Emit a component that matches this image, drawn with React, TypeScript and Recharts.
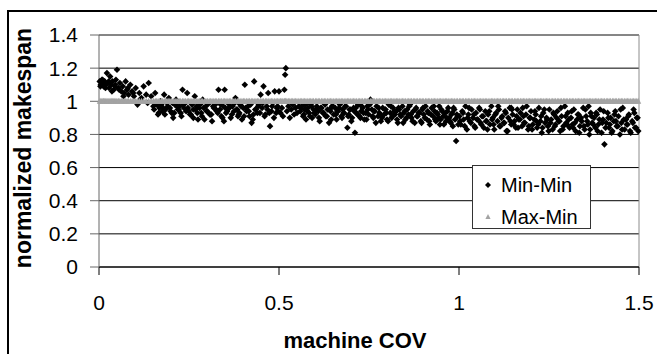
import React from "react";
import { ScatterChart, Scatter, XAxis, YAxis, CartesianGrid, ReferenceLine, Legend, Label } from "recharts";

// machine COV (x) and Min-Min normalized makespan (y) in x ranges
const covA = [
  0.002, 0.005, 0.008, 0.011, 0.013, 0.016, 0.019, 0.022, 0.025, 0.028,
  0.031, 0.034, 0.037, 0.041, 0.044, 0.047, 0.05, 0.054, 0.058, 0.062,
  0.066, 0.07, 0.074, 0.078, 0.082, 0.087, 0.092, 0.097, 0.102, 0.107,
  0.112, 0.118, 0.124, 0.131, 0.138, 0.145,
];
const minMinA = [
  1.12, 1.1, 1.13, 1.11, 1.09, 1.12, 1.1, 1.17, 1.11, 1.08,
  1.15, 1.1, 1.12, 1.07, 1.09, 1.13, 1.19, 1.08, 1.11, 1.06,
  1.09, 1.05, 1.12, 1.07, 1.04, 1.1, 1.06, 1.03, 1.08, 0.98,
  1.05, 1.02, 1.09, 1.04, 1.11, 1.03,
];
const maxMinA = [
  1, 1, 1, 1, 1, 1, 1, 1, 1, 1,
  1, 1, 1, 1, 1, 1, 1, 1, 1, 1,
  1, 1, 1, 1, 1, 1, 1, 1, 1, 1,
  1, 1, 1, 1, 1, 1,
];
const covA2 = [0.004, 0.01, 0.018, 0.027, 0.036, 0.045, 0.056, 0.068, 0.08, 0.095, 0.115, 0.135];
const minMinA2 = [1.09, 1.13, 1.08, 1.12, 1.06, 1.1, 1.07, 1.03, 1.08, 1.05, 1.01, 0.99];

const covB = [
  0.151, 0.156, 0.159, 0.164, 0.168, 0.173, 0.176, 0.181, 0.185, 0.189,
  0.194, 0.197, 0.202, 0.206, 0.211, 0.214, 0.219, 0.223, 0.227, 0.232,
  0.236, 0.24, 0.245, 0.249, 0.253, 0.258, 0.262, 0.266, 0.271, 0.275,
  0.279, 0.284, 0.288, 0.293, 0.297, 0.301, 0.306, 0.31, 0.314, 0.319,
  0.323, 0.327, 0.332, 0.336, 0.34, 0.345, 0.349, 0.353, 0.358, 0.362,
  0.366, 0.371, 0.375, 0.379, 0.384, 0.388, 0.392, 0.397, 0.401, 0.405,
  0.41, 0.414, 0.418, 0.423, 0.427, 0.431, 0.436, 0.44, 0.444, 0.449,
  0.453, 0.457, 0.462, 0.466, 0.47, 0.475, 0.479, 0.483, 0.488, 0.492,
  0.496,
];
const minMinB = [
  0.97, 1.05, 0.99, 0.92, 0.96, 0.98, 0.94, 1.04, 0.95, 0.99,
  1.02, 0.96, 0.93, 0.9, 0.98, 1.01, 0.95, 0.97, 0.93, 1.07,
  0.96, 0.99, 1.05, 0.94, 0.92, 0.98, 0.95, 1.03, 0.97, 0.89,
  0.96, 0.93, 1.01, 0.89, 0.97, 0.94, 0.99, 0.92, 0.88, 0.96,
  0.98, 0.94, 1.07, 0.95, 0.91, 0.97, 1.07, 0.93, 0.99, 0.96,
  0.9, 0.97, 0.94, 1.02, 0.95, 0.92, 0.98, 0.89, 0.96, 1.1,
  0.94, 0.97, 0.91, 0.99, 0.89, 1.12, 0.95, 0.93, 0.98, 1.04,
  0.96, 1.09, 0.92, 0.97, 1.05, 0.85, 0.94, 0.99, 1.06, 0.93,
  0.97,
];
const maxMinB = [
  1, 1, 1, 1, 1, 1, 1, 1, 1, 1,
  1, 1, 1, 1, 1, 1, 1, 1, 1, 1,
  1, 1, 1, 1, 1, 1, 1, 1, 1, 1,
  1, 1, 1, 1, 1, 1, 1, 1, 1, 1,
  1, 1, 1, 1, 1, 1, 1, 1, 1, 1,
  1, 1, 1, 1, 1, 1, 1, 1, 1, 1,
  1, 1, 1, 1, 1, 1, 1, 1, 1, 1,
  1, 1, 1, 1, 1, 1, 1, 1, 1, 1,
  1,
];
const covB2 = [
  0.153, 0.161, 0.166, 0.171, 0.178, 0.183, 0.191, 0.199, 0.204, 0.209,
  0.216, 0.221, 0.229, 0.234, 0.242, 0.247, 0.255, 0.26, 0.268, 0.273,
  0.281, 0.286, 0.291, 0.299, 0.304, 0.312, 0.317, 0.325, 0.33, 0.338,
  0.343, 0.351, 0.356, 0.364, 0.369, 0.377, 0.382, 0.39, 0.395, 0.403,
  0.408, 0.416, 0.421, 0.429, 0.434, 0.442, 0.447, 0.455, 0.46, 0.468,
  0.473, 0.481, 0.486, 0.494, 0.498, 0.424, 0.386, 0.347, 0.308, 0.262,
];
const minMinB2 = [
  0.95, 0.98, 0.93, 1.0, 0.96, 0.92, 0.97, 0.94, 0.99, 0.93,
  0.97, 0.95, 0.91, 0.98, 0.94, 0.96, 0.92, 0.99, 0.95, 0.93,
  0.98, 0.91, 0.96, 0.94, 0.99, 0.92, 0.97, 0.95, 0.93, 0.98,
  0.9, 0.96, 0.94, 0.97, 0.92, 0.99, 0.95, 0.93, 0.97, 0.91,
  0.96, 0.94, 0.98, 0.92, 0.95, 0.97, 0.93, 0.99, 0.91, 0.95,
  0.93, 0.97, 0.9, 0.96, 0.94, 0.87, 0.91, 0.88, 0.92, 0.9,
];

const covC = [
  0.5, 0.504, 0.508, 0.511, 0.515, 0.517, 0.519, 0.522, 0.526, 0.53,
  0.534, 0.538, 0.542, 0.546, 0.55, 0.555,
];
const minMinC = [
  1.06, 0.93, 0.96, 0.91, 1.07, 1.16, 1.2, 0.94, 0.97, 0.9,
  0.95, 0.98, 0.92, 0.96, 0.93, 0.97,
];
const maxMinC = [
  1, 1, 1, 1, 1, 1, 1, 1, 1, 1,
  1, 1, 1, 1, 1, 1,
];

const covD = [
  0.559, 0.563, 0.567, 0.571, 0.575, 0.58, 0.584, 0.588, 0.592, 0.596,
  0.601, 0.605, 0.609, 0.613, 0.618, 0.622, 0.626, 0.63, 0.635, 0.639,
  0.643, 0.647, 0.652, 0.656, 0.66, 0.664, 0.669, 0.673, 0.677, 0.681,
  0.686, 0.69, 0.694, 0.698, 0.703, 0.707, 0.711, 0.715, 0.72, 0.724,
  0.728, 0.732, 0.737, 0.741, 0.745, 0.749, 0.754, 0.758, 0.762, 0.766,
  0.771, 0.775, 0.779, 0.783, 0.788, 0.792, 0.796, 0.8, 0.805, 0.809,
  0.813, 0.817, 0.822, 0.826, 0.83, 0.834, 0.839, 0.843, 0.847, 0.851,
  0.856, 0.86, 0.864, 0.868, 0.873, 0.877, 0.881, 0.885, 0.89, 0.894,
  0.898, 0.902, 0.907, 0.911, 0.915, 0.919, 0.924, 0.928, 0.932, 0.936,
  0.941, 0.945, 0.949, 0.953, 0.958, 0.962, 0.966, 0.97, 0.975, 0.979,
  0.983, 0.987, 0.992, 0.996,
];
const minMinD = [
  0.94, 0.97, 0.91, 0.95, 0.89, 0.96, 0.93, 0.98, 0.9, 0.95,
  0.92, 0.97, 0.94, 0.88, 0.96, 0.93, 0.99, 0.91, 0.95, 0.87,
  0.94, 0.97, 0.92, 0.96, 0.89, 0.94, 0.98, 0.91, 0.95, 0.93,
  0.97, 0.84, 0.92, 0.95, 0.9, 0.96, 0.81, 0.93, 0.98, 0.91,
  0.94, 0.96, 0.89, 0.93, 0.97, 0.92, 1.01, 0.95, 0.9, 0.94,
  0.97, 0.91, 0.93, 0.88, 0.96, 0.92, 0.95, 0.89, 0.98, 0.93,
  0.9, 0.96, 0.92, 0.94, 0.87, 0.95, 0.91, 0.97, 0.93, 0.89,
  0.95, 0.92, 0.98, 0.9, 0.94, 0.87, 0.96, 0.91, 0.93, 0.88,
  0.95, 0.92, 0.97, 0.89, 0.93, 0.86, 0.96, 0.91, 0.94, 0.88,
  0.92, 0.97, 0.89, 0.94, 0.86, 0.93, 0.9, 0.96, 0.88, 0.92,
  0.85, 0.95, 0.76, 0.91,
];
const maxMinD = [
  1, 1, 1, 1, 1, 1, 1, 1, 1, 1,
  1, 1, 1, 1, 1, 1, 1, 1, 1, 1,
  1, 1, 1, 1, 1, 1, 1, 1, 1, 1,
  1, 1, 1, 1, 1, 1, 1, 1, 1, 1,
  1, 1, 1, 1, 1, 1, 1, 1, 1, 1,
  1, 1, 1, 1, 1, 1, 1, 1, 1, 1,
  1, 1, 1, 1, 1, 1, 1, 1, 1, 1,
  1, 1, 1, 1, 1, 1, 1, 1, 1, 1,
  1, 1, 1, 1, 1, 1, 1, 1, 1, 1,
  1, 1, 1, 1, 1, 1, 1, 1, 1, 1,
  1, 1, 1, 1,
];
const covD2 = [
  0.561, 0.569, 0.573, 0.578, 0.586, 0.59, 0.598, 0.603, 0.611, 0.616,
  0.624, 0.628, 0.633, 0.641, 0.645, 0.65, 0.658, 0.662, 0.667, 0.675,
  0.679, 0.684, 0.692, 0.696, 0.701, 0.709, 0.713, 0.718, 0.726, 0.73,
  0.735, 0.743, 0.747, 0.752, 0.76, 0.764, 0.769, 0.777, 0.781, 0.786,
  0.794, 0.798, 0.803, 0.811, 0.815, 0.82, 0.828, 0.832, 0.837, 0.845,
  0.849, 0.854, 0.862, 0.866, 0.871, 0.879, 0.883, 0.888, 0.896, 0.9,
  0.905, 0.913, 0.917, 0.922, 0.93, 0.934, 0.939, 0.947, 0.951, 0.956,
  0.964, 0.968, 0.973, 0.977, 0.981, 0.985, 0.989, 0.994, 0.998, 0.943,
];
const minMinD2 = [
  0.96, 0.92, 0.98, 0.94, 0.91, 0.97, 0.93, 0.95, 0.9, 0.96,
  0.93, 0.98, 0.91, 0.95, 0.89, 0.97, 0.92, 0.94, 0.96, 0.9,
  0.93, 0.97, 0.91, 0.95, 0.88, 0.94, 0.96, 0.92, 0.9, 0.97,
  0.93, 0.89, 0.95, 0.98, 0.91, 0.94, 0.87, 0.96, 0.92, 0.9,
  0.95, 0.93, 0.88, 0.97, 0.91, 0.94, 0.89, 0.96, 0.92, 0.87,
  0.94, 0.9, 0.97, 0.92, 0.88, 0.95, 0.91, 0.93, 0.87, 0.96,
  0.9, 0.94, 0.88, 0.92, 0.97, 0.89, 0.93, 0.86, 0.95, 0.91,
  0.88, 0.94, 0.9, 0.87, 0.93, 0.96, 0.89, 0.92, 0.86, 0.9,
];

const covE = [
  1.001, 1.005, 1.009, 1.013, 1.018, 1.022, 1.026, 1.03, 1.035, 1.039,
  1.043, 1.047, 1.052, 1.056, 1.06, 1.064, 1.069, 1.073, 1.077, 1.081,
  1.086, 1.09, 1.094, 1.098, 1.103, 1.107, 1.111, 1.115, 1.12, 1.124,
  1.128, 1.132, 1.137, 1.141, 1.145, 1.149, 1.154, 1.158, 1.162, 1.166,
  1.171, 1.175, 1.179, 1.183, 1.188, 1.192, 1.196, 1.2, 1.205, 1.209,
  1.213, 1.217, 1.222, 1.226, 1.23, 1.234, 1.239, 1.243, 1.247, 1.251,
  1.256, 1.26, 1.264, 1.268, 1.273, 1.277, 1.281, 1.285, 1.29, 1.294,
  1.298, 1.302, 1.307, 1.311, 1.315, 1.319, 1.324, 1.328, 1.332, 1.336,
  1.341, 1.345, 1.349, 1.353, 1.358, 1.362, 1.366, 1.37, 1.375, 1.379,
  1.383, 1.387, 1.392, 1.396, 1.4, 1.404, 1.409, 1.413, 1.417, 1.421,
  1.426, 1.43, 1.434, 1.438, 1.443, 1.447, 1.451, 1.455, 1.46, 1.464,
  1.468, 1.472, 1.477, 1.481, 1.485, 1.489, 1.494, 1.498,
];
const minMinE = [
  0.91, 0.86, 0.94, 0.89, 0.97, 0.83, 0.92, 0.88, 0.95, 0.9,
  0.85, 0.93, 0.89, 0.96, 0.87, 0.91, 0.84, 0.94, 0.88, 0.92,
  0.86, 0.97, 0.9, 0.83, 0.93, 0.88, 0.95, 0.85, 0.91, 0.87,
  0.94, 0.82, 0.9, 0.96, 0.86, 0.92, 0.88, 0.84, 0.95, 0.89,
  0.93, 0.85, 0.91, 0.87, 0.97, 0.83, 0.9, 0.94, 0.86, 0.89,
  0.92, 0.84, 0.96, 0.88, 0.81, 0.93, 0.87, 0.9, 0.85, 0.95,
  0.89, 0.83, 0.92, 0.86, 0.94, 0.88, 0.82, 0.91, 0.85, 0.97,
  0.87, 0.93, 0.84, 0.9, 0.86, 0.95, 0.82, 0.89, 0.92, 0.85,
  0.88, 0.96, 0.83, 0.91, 0.86, 0.8, 0.93, 0.87, 0.9, 0.84,
  0.92, 0.86, 0.95, 0.81, 0.89, 0.74, 0.87, 0.93, 0.84, 0.9,
  0.82, 0.88, 0.94, 0.85, 0.91, 0.8, 0.87, 0.96, 0.83, 0.89,
  0.86, 0.92, 0.81, 0.88, 0.95, 0.84, 0.9, 0.82,
];
const maxMinE = [
  1, 1, 1, 1, 1, 1, 1, 1, 1, 1,
  1, 1, 1, 1, 1, 1, 1, 1, 1, 1,
  1, 1, 1, 1, 1, 1, 1, 1, 1, 1,
  1, 1, 1, 1, 1, 1, 1, 1, 1, 1,
  1, 1, 1, 1, 1, 1, 1, 1, 1, 1,
  1, 1, 1, 1, 1, 1, 1, 1, 1, 1,
  1, 1, 1, 1, 1, 1, 1, 1, 1, 1,
  1, 1, 1, 1, 1, 1, 1, 1, 1, 1,
  1, 1, 1, 1, 1, 1, 1, 1, 1, 1,
  1, 1, 1, 1, 1, 1, 1, 1, 1, 1,
  1, 1, 1, 1, 1, 1, 1, 1, 1, 1,
  1, 1, 1, 1, 1, 1, 1, 1,
];
const covE2 = [
  1.003, 1.011, 1.016, 1.024, 1.028, 1.033, 1.041, 1.045, 1.05, 1.058,
  1.062, 1.067, 1.075, 1.079, 1.084, 1.092, 1.096, 1.101, 1.109, 1.113,
  1.118, 1.126, 1.13, 1.135, 1.143, 1.147, 1.152, 1.16, 1.164, 1.169,
  1.177, 1.181, 1.186, 1.194, 1.198, 1.203, 1.211, 1.215, 1.22, 1.228,
  1.232, 1.237, 1.245, 1.249, 1.254, 1.262, 1.266, 1.271, 1.279, 1.283,
  1.288, 1.296, 1.3, 1.305, 1.313, 1.317, 1.322, 1.33, 1.334, 1.339,
  1.347, 1.351, 1.356, 1.364, 1.368, 1.373, 1.381, 1.385, 1.39, 1.398,
  1.402, 1.407, 1.415, 1.419, 1.424, 1.432, 1.436, 1.441, 1.449, 1.453,
  1.458, 1.466, 1.47, 1.475, 1.483, 1.487, 1.492, 1.496, 1.145, 1.36,
];
const minMinE2 = [
  0.88, 0.93, 0.85, 0.9, 0.96, 0.87, 0.92, 0.84, 0.89, 0.95,
  0.86, 0.91, 0.88, 0.83, 0.94, 0.89, 0.86, 0.92, 0.97, 0.85,
  0.9, 0.87, 0.93, 0.82, 0.88, 0.95, 0.86, 0.91, 0.84, 0.89,
  0.96, 0.87, 0.92, 0.85, 0.9, 0.83, 0.94, 0.88, 0.86, 0.91,
  0.84, 0.95, 0.89, 0.82, 0.87, 0.93, 0.85, 0.9, 0.88, 0.96,
  0.83, 0.91, 0.86, 0.89, 0.94, 0.84, 0.87, 0.92, 0.81, 0.9,
  0.85, 0.95, 0.88, 0.83, 0.91, 0.86, 0.93, 0.82, 0.89, 0.87,
  0.94, 0.84, 0.9, 0.86, 0.81, 0.92, 0.88, 0.85, 0.95, 0.83,
  0.89, 0.86, 0.91, 0.82, 0.87, 0.93, 0.84, 0.9, 0.96, 0.97,
];

const xTicks = [0, 0.5, 1, 1.5];
const yTicks = [0, 0.2, 0.4, 0.6, 0.8, 1, 1.2, 1.4];
const seriesNames = ["Min-Min", "Max-Min"];

const FONT = '"Liberation Sans", Arial, Helvetica, sans-serif';

const zip = (xs: number[], ys: number[]) => xs.map((x, i) => ({ x, y: ys[i] }));

const minMinData = [
  ...zip(covA, minMinA),
  ...zip(covA2, minMinA2),
  ...zip(covB, minMinB),
  ...zip(covB2, minMinB2),
  ...zip(covC, minMinC),
  ...zip(covD, minMinD),
  ...zip(covD2, minMinD2),
  ...zip(covE, minMinE),
  ...zip(covE2, minMinE2),
];
const maxMinData = [
  ...zip(covA, maxMinA),
  ...zip(covB, maxMinB),
  ...zip(covC, maxMinC),
  ...zip(covD, maxMinD),
  ...zip(covE, maxMinE),
];

function Diamond(props: any) {
  const { cx, cy } = props;
  if (cx == null || cy == null) return null;
  const r = 3.3;
  return <path d={`M${cx},${cy - r}L${cx + r},${cy}L${cx},${cy + r}L${cx - r},${cy}Z`} fill="#000" />;
}

function Triangle(props: any) {
  const { cx, cy } = props;
  if (cx == null || cy == null) return null;
  return <path d={`M${cx},${cy - 3.5}L${cx + 3},${cy + 2.5}L${cx - 3},${cy + 2.5}Z`} fill="#a3a3a3" />;
}

function LegendBox() {
  return (
    <div
      style={{
        width: 119,
        height: 64,
        boxSizing: "border-box",
        border: "1px solid #333",
        background: "#fff",
        paddingTop: 3,
        fontFamily: FONT,
        fontSize: 20,
        color: "#000",
      }}
    >
      {seriesNames.map((name, i) => (
        <div key={name} style={{ display: "flex", alignItems: "center", height: 32 }}>
          <svg width={28} height={12} style={{ display: "block" }}>
            {i === 0 ? (
              <path d="M15,3L18,6L15,9L12,6Z" fill="#000" />
            ) : (
              <path d="M15,3L17.6,8L12.4,8Z" fill="#a3a3a3" />
            )}
          </svg>
          <span style={{ lineHeight: "32px" }}>{name}</span>
        </div>
      ))}
    </div>
  );
}

export default function App() {
  return (
    <div
      style={{
        position: "absolute",
        left: 0,
        top: 0,
        width: 657,
        height: 354,
        overflow: "hidden",
        background: "#fff",
        fontFamily: FONT,
      }}
    >
      <div
        style={{
          position: "absolute",
          left: 7,
          top: 10,
          width: 720,
          height: 400,
          border: "2px solid #000",
          boxSizing: "border-box",
        }}
      />
      <div style={{ position: "absolute", left: 0, top: 0 }}>
        <ScatterChart width={657} height={354} margin={{ top: 35, right: 18, left: 39, bottom: 7 }}>
          <CartesianGrid vertical={false} stroke="#000" strokeOpacity={1} />
          <XAxis
            type="number"
            dataKey="x"
            domain={[0, 1.5]}
            ticks={xTicks}
            height={80}
            tickSize={8}
            tickMargin={20}
            axisLine={{ stroke: "#000" }}
            tickLine={{ stroke: "#000" }}
            tick={{ fill: "#000", fontSize: 21, fontFamily: FONT }}
            label={
              <Label
                content={(p: any) => {
                  const vb = p.viewBox;
                  return (
                    <text
                      x={vb.x + vb.width / 2 - 14}
                      y={vb.y + 81}
                      textAnchor="middle"
                      fontFamily={FONT}
                      fontSize={22}
                      fontWeight="bold"
                      fill="#000"
                    >
                      machine COV
                    </text>
                  );
                }}
              />
            }
          />
          <YAxis
            type="number"
            dataKey="y"
            domain={[0, 1.4]}
            ticks={yTicks}
            width={60}
            tickSize={9}
            tickMargin={12}
            axisLine={{ stroke: "#666" }}
            tickLine={{ stroke: "#666" }}
            tick={{ fill: "#000", fontSize: 21, fontFamily: FONT }}
            label={
              <Label
                content={(p: any) => {
                  const vb = p.viewBox;
                  const cx = vb.x - 16;
                  const cy = vb.y + vb.height / 2 - 3;
                  return (
                    <text
                      x={cx}
                      y={cy}
                      transform={`rotate(-90 ${cx} ${cy})`}
                      textAnchor="middle"
                      dominantBaseline="central"
                      fontFamily={FONT}
                      fontSize={23}
                      fontWeight="bold"
                      fill="#000"
                    >
                      normalized makespan
                    </text>
                  );
                }}
              />
            }
          />
          <ReferenceLine y={1.4} stroke="#8c8c8c" />
          <ReferenceLine x={1.5} stroke="#8c8c8c" />
          <Scatter name={seriesNames[0]} data={minMinData} shape={Diamond} isAnimationActive={false} />
          <Scatter name={seriesNames[1]} data={maxMinData} shape={Triangle} isAnimationActive={false} />
          <Legend
            layout="vertical"
            align="center"
            verticalAlign="middle"
            wrapperStyle={{ left: 472, top: 165, width: 119, height: 64 }}
            content={() => <LegendBox />}
          />
        </ScatterChart>
      </div>
    </div>
  );
}
